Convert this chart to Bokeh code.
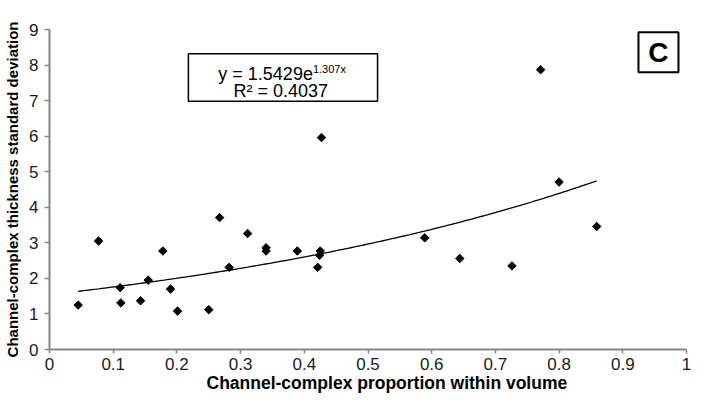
import numpy as np
from bokeh.plotting import figure
from bokeh.models import Range1d, FixedTicker, Label, BoxAnnotation, Title
from bokeh.embed import file_html
from bokeh.resources import INLINE

# Channel-complex proportion vs. thickness standard deviation
proportion = [0.045, 0.077, 0.111, 0.112, 0.143, 0.155, 0.178, 0.190, 0.201,
              0.250, 0.267, 0.282, 0.311, 0.340, 0.340, 0.389, 0.421, 0.424,
              0.425, 0.427, 0.589, 0.644, 0.726, 0.771, 0.800, 0.859]
thickness_sd = [1.25, 3.05, 1.74, 1.31, 1.37, 1.95, 2.77, 1.70, 1.08,
                1.12, 3.71, 2.31, 3.26, 2.86, 2.77, 2.77, 2.31, 2.65,
                2.77, 5.96, 3.14, 2.56, 2.35, 7.87, 4.71, 3.46]

# Exponential trendline y = a * exp(b * x)
fit_a = 1.5429
fit_b = 1.307
fit_r2 = 0.4037

x_ticks = [0, 0.1, 0.2, 0.3, 0.4, 0.5, 0.6, 0.7, 0.8, 0.9, 1]
x_tick_labels = ["0", "0.1", "0.2", "0.3", "0.4", "0.5", "0.6", "0.7", "0.8", "0.9", "1"]
y_ticks = [0, 1, 2, 3, 4, 5, 6, 7, 8, 9]
y_tick_labels = ["0", "1", "2", "3", "4", "5", "6", "7", "8", "9"]

x_title = "Channel-complex proportion within volume"
y_title = "Channel-complex thickness standard deviation"
panel_tag = "C"

FONT = "Liberation Sans"
AXIS_GREY = "#868686"

p = figure(width=707, height=400,
           x_range=Range1d(0, 1), y_range=Range1d(0, 9),
           output_backend="svg", toolbar_location=None,
           min_border_left=49, min_border_right=21,
           min_border_top=29, min_border_bottom=51)
p.outline_line_color = None
p.grid.visible = False
p.background_fill_color = "white"
p.border_fill_color = "white"

p.xaxis.ticker = FixedTicker(ticks=x_ticks)
p.xaxis.major_label_overrides = {t: l for t, l in zip(x_ticks, x_tick_labels)}
p.yaxis.ticker = FixedTicker(ticks=y_ticks)
p.yaxis.major_label_overrides = {t: l for t, l in zip(y_ticks, y_tick_labels)}

for ax in (p.xaxis[0], p.yaxis[0]):
    ax.axis_line_color = AXIS_GREY
    ax.axis_line_width = 2
    ax.major_tick_line_color = AXIS_GREY
    ax.major_tick_line_width = 1.5
    ax.major_tick_in = 0
    ax.minor_tick_line_color = None
    ax.major_label_text_font = FONT
    ax.major_label_text_font_size = "17px"
    ax.major_label_text_color = "#1a1a1a"
p.xaxis.major_tick_out = 4
p.yaxis.major_tick_out = 5
p.xaxis.major_label_standoff = 4
p.yaxis.major_label_standoff = 6

# y title sits on the axis itself
p.yaxis.axis_label = y_title
p.yaxis.axis_label_standoff = 5
p.yaxis.axis_label_text_font = FONT
p.yaxis.axis_label_text_font_style = "bold"
p.yaxis.axis_label_text_font_size = "15px"
p.yaxis.axis_label_text_color = "black"

# x title as a panel title below the axis
p.add_layout(Title(text=x_title, align="left", offset=157, standoff=0,
                   vertical_align="top", text_font=FONT, text_font_style="bold",
                   text_font_size="17.5px", text_color="black"), "below")

# trendline across the observed range
xs = np.linspace(min(proportion), max(proportion), 200)
p.line(xs, fit_a * np.exp(fit_b * xs), line_color="black", line_width=1.3)

# data points as small diamonds
p.scatter(proportion, thickness_sd, marker="square", angle=np.pi / 4,
          size=6, fill_color="black", line_color="black")

# equation box
p.add_layout(BoxAnnotation(left=0.218, right=0.515, bottom=6.98, top=8.32,
                           fill_color="white", fill_alpha=1.0,
                           line_color="black", line_alpha=1.0, line_width=1.5))
p.add_layout(Label(x=0.4135, y=7.74, text=f"y = {fit_a}e", text_align="right",
                   text_baseline="alphabetic", text_font=FONT,
                   text_font_size="18px", text_color="black"))
p.add_layout(Label(x=0.4135, y=7.90, text=f"{fit_b}x", text_align="left",
                   text_baseline="alphabetic", text_font=FONT,
                   text_font_size="11px", text_color="black"))
p.add_layout(Label(x=0.363, y=7.26, text=f"R\u00b2 = {fit_r2}", text_align="center",
                   text_baseline="alphabetic", text_font=FONT,
                   text_font_size="18px", text_color="black"))

# panel tag
p.add_layout(BoxAnnotation(left=0.9246, right=0.9874, bottom=7.80, top=8.92,
                           fill_color="white", fill_alpha=1.0,
                           line_color="black", line_alpha=1.0, line_width=2))
p.add_layout(Label(x=0.956, y=8.36, text=panel_tag, text_align="center",
                   text_baseline="middle", text_font=FONT, text_font_style="bold",
                   text_font_size="28px", text_color="black"))

open("out.html", "w").write(file_html(p, INLINE))
